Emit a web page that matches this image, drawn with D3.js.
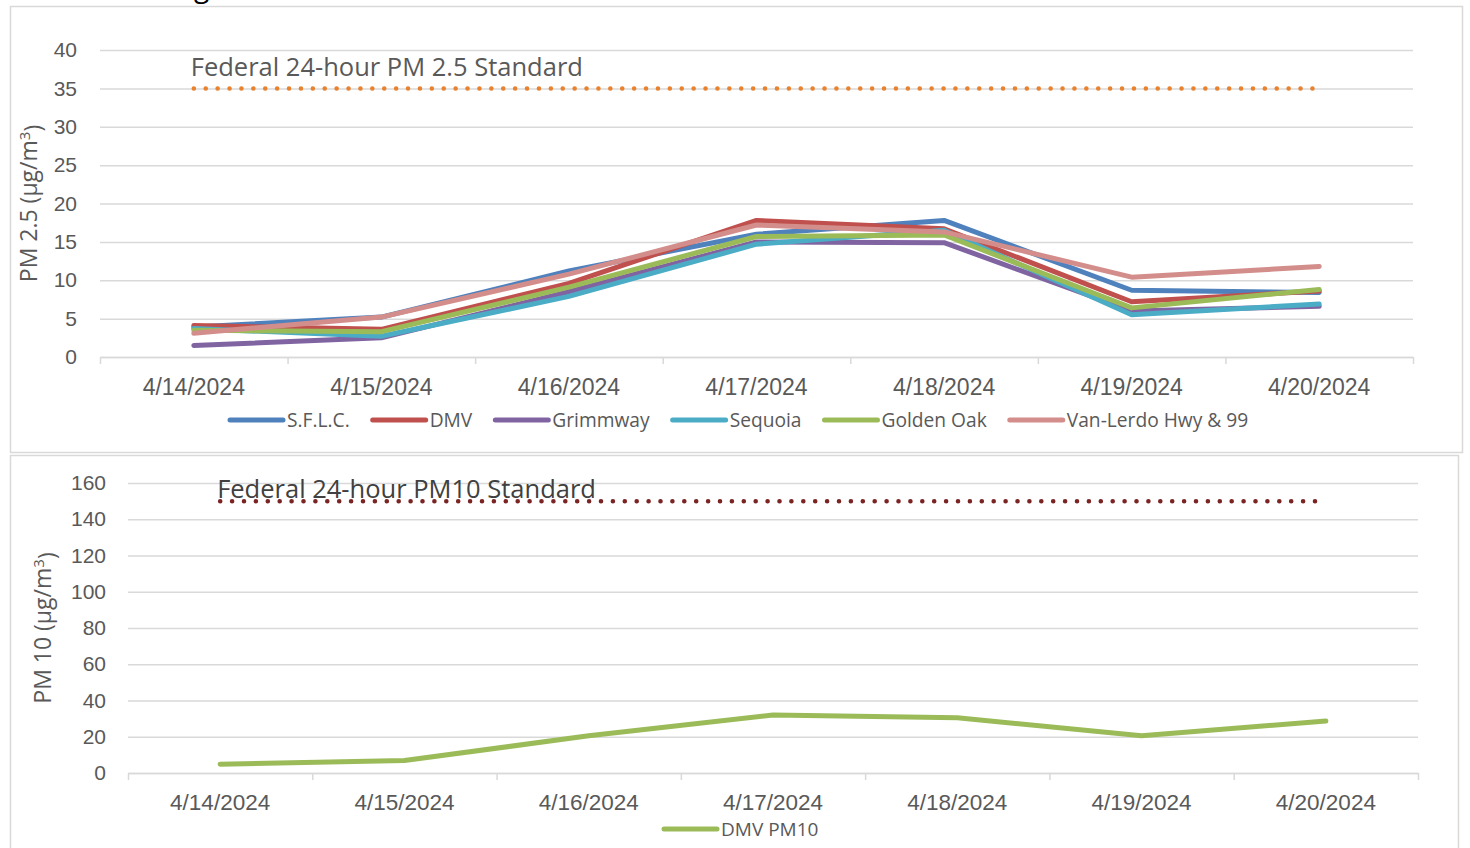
<!DOCTYPE html>
<html>
<head>
<meta charset="utf-8">
<script src="https://cdn.jsdelivr.net/npm/d3@7"></script>
<style>
  body { margin: 0; background: #fff; }
  svg { display: block; font-family: "Open Sans", Lato, sans-serif; }
</style>
</head>
<body>
<div id="canvas"></div>
<script>
// categories shared by both charts
var dates = ['4/14/2024', '4/15/2024', '4/16/2024', '4/17/2024', '4/18/2024', '4/19/2024', '4/20/2024'];

// PM 2.5 per station (ug/m3)
var sflc      = [3.9, 5.2, 11.2, 16.0, 17.8, 8.7, 8.4];
var dmv       = [4.1, 3.6, 9.6, 17.8, 16.7, 7.2, 8.6];
var grimmway  = [1.5, 2.5, 8.5, 15.0, 14.9, 6.0, 6.6];
var sequoia   = [3.7, 2.7, 7.9, 14.7, 16.5, 5.5, 6.9];
var goldenOak = [3.5, 3.3, 9.1, 15.7, 15.9, 6.4, 8.8];
var vanLerdo  = [3.1, 5.2, 10.8, 17.2, 16.3, 10.4, 11.8];
var pm25Names = ['S.F.L.C.', 'DMV', 'Grimmway', 'Sequoia', 'Golden Oak', 'Van-Lerdo Hwy & 99'];
var pm25Standard = 35;

// PM 10 at DMV
var dmvPm10 = [4.8, 6.9, 20.5, 32.0, 30.5, 20.5, 28.7];
var pm10Standard = 150;

var W = 1470, H = 848;
var gridColor = '#d9d9d9';
var textColor = '#595959';

var svg = d3.select('#canvas').append('svg')
  .attr('width', W)
  .attr('height', H);

// chart frames (two stacked excel charts)
svg.append('rect')
  .attr('x', 10.5).attr('y', 6.5).attr('width', 1452).attr('height', 446)
  .attr('fill', '#fff').attr('stroke', gridColor).attr('stroke-width', 1.5);
svg.append('rect')
  .attr('x', 10.5).attr('y', 455.5).attr('width', 1448).attr('height', 400)
  .attr('fill', '#fff').attr('stroke', gridColor).attr('stroke-width', 1.5);

// remains of the cut-off title at the very top
svg.append('text')
  .attr('x', 194).attr('y', -3)
  .style('font-size', '28px')
  .style('fill', '#000')
  .text('g');

function drawChart(opt) {
  var x = d3.scaleBand().domain(dates).range([opt.left, opt.right]).paddingInner(0).paddingOuter(0);
  var xEdge = d3.scaleLinear().domain([0, dates.length]).range([opt.left, opt.right]);
  var y = d3.scaleLinear().domain([0, opt.max]).range([opt.bottom, opt.top]);
  var cx = function(d, i) { return x(dates[i]) + x.bandwidth() / 2; };

  var g = svg.append('g');

  // gridlines + value labels
  var yAxis = g.append('g')
    .attr('transform', 'translate(' + opt.left + ',0)')
    .call(d3.axisLeft(y).tickValues(d3.range(0, opt.max + 1, opt.step)).tickSize(-(opt.right - opt.left)).tickPadding(opt.labelPad));
  yAxis.select('.domain').remove();
  yAxis.selectAll('line').attr('stroke', gridColor).attr('stroke-width', 1.5);
  yAxis.selectAll('text').style('font-size', '21px').style('fill', textColor).attr('font-family', null);

  // category axis: ticks between categories, labels centred
  var edges = g.append('g')
    .attr('transform', 'translate(0,' + opt.bottom + ')')
    .call(d3.axisBottom(xEdge).tickValues(d3.range(dates.length + 1)).tickFormat('').tickSizeInner(7).tickSizeOuter(0));
  edges.select('.domain').attr('stroke', gridColor).attr('stroke-width', 1.5);
  edges.selectAll('line').attr('stroke', gridColor).attr('stroke-width', 1.5);

  var labels = g.append('g')
    .attr('transform', 'translate(0,' + opt.bottom + ')')
    .call(d3.axisBottom(x).tickSize(0).tickPadding(opt.catPad));
  labels.select('.domain').remove();
  labels.selectAll('text').style('font-size', opt.catFont).style('fill', textColor).attr('font-family', null);

  // axis title
  var t = g.append('text')
    .attr('transform', 'translate(' + opt.titleX + ',' + ((opt.top + opt.bottom) / 2) + ') rotate(-90)')
    .attr('text-anchor', 'middle')
    .style('font-size', '23px')
    .style('fill', textColor);
  t.append('tspan').text(opt.title + ' (µg/m');
  t.append('tspan').attr('dy', '-0.45em').style('font-size', '15px').text('3');
  t.append('tspan').attr('dy', '0.45em').text(')');

  // federal standard: dotted line from first to last category
  var std = dates.map(function() { return opt.standard; });
  g.append('path')
    .datum(std)
    .attr('fill', 'none')
    .attr('stroke', opt.stdColor)
    .attr('stroke-width', 4.5)
    .attr('stroke-linecap', 'round')
    .attr('stroke-dasharray', '0.1,11.8')
    .attr('d', d3.line().x(cx).y(function(d) { return y(d); }));

  g.append('text')
    .attr('x', x(dates[0]) + x.bandwidth() / 2 - 3)
    .attr('y', y(opt.standard) + opt.stdTextDy)
    .style('font-size', '25.5px')
    .style('fill', opt.stdTextColor)
    .text(opt.stdText);

  // series lines
  var line = d3.line().x(cx).y(function(d) { return y(d); });
  opt.series.forEach(function(s) {
    g.append('path')
      .datum(s.values)
      .attr('fill', 'none')
      .attr('stroke', s.color)
      .attr('stroke-width', 5)
      .attr('stroke-linecap', 'round')
      .attr('stroke-linejoin', 'round')
      .attr('d', line);
  });

  // legend
  var leg = g.append('g');
  var lx = opt.legendX;
  opt.series.forEach(function(s) {
    var item = leg.append('g').attr('transform', 'translate(' + lx + ',' + opt.legendY + ')');
    item.append('line')
      .attr('x1', 2).attr('x2', 55)
      .attr('stroke', s.color).attr('stroke-width', 5).attr('stroke-linecap', 'round');
    var txt = item.append('text')
      .attr('x', 59).attr('dy', '0.35em')
      .style('font-size', opt.legendFont)
      .style('fill', textColor)
      .text(s.name);
    lx += 59 + txt.node().getComputedTextLength() + opt.legendGap;
  });
}

drawChart({
  left: 100, right: 1413, top: 50, bottom: 357,
  max: 40, step: 5, labelPad: 23, catPad: 22, catFont: '23px',
  title: 'PM 2.5', titleX: 37,
  standard: pm25Standard, stdColor: '#e8822f', stdTextColor: textColor,
  stdText: 'Federal 24-hour PM 2.5 Standard', stdTextDy: -12,
  legendX: 228, legendY: 420, legendFont: '19.2px', legendGap: 21,
  series: [
    { name: pm25Names[0], values: sflc,      color: '#4f81bd' },
    { name: pm25Names[1], values: dmv,       color: '#c0504d' },
    { name: pm25Names[2], values: grimmway,  color: '#8064a2' },
    { name: pm25Names[3], values: sequoia,   color: '#4bacc6' },
    { name: pm25Names[4], values: goldenOak, color: '#9bbb59' },
    { name: pm25Names[5], values: vanLerdo,  color: '#d38e8c' }
  ]
});

drawChart({
  left: 128, right: 1418, top: 483, bottom: 773,
  max: 160, step: 20, labelPad: 22, catPad: 21, catFont: '22.5px',
  title: 'PM 10', titleX: 51,
  standard: pm10Standard, stdColor: '#7b2424', stdTextColor: '#404040',
  stdText: 'Federal 24-hour PM10 Standard', stdTextDy: -3,
  legendX: 662, legendY: 829, legendFont: '19px', legendGap: 20,
  series: [
    { name: 'DMV PM10', values: dmvPm10, color: '#9bbb59' }
  ]
});
</script>
</body>
</html>
